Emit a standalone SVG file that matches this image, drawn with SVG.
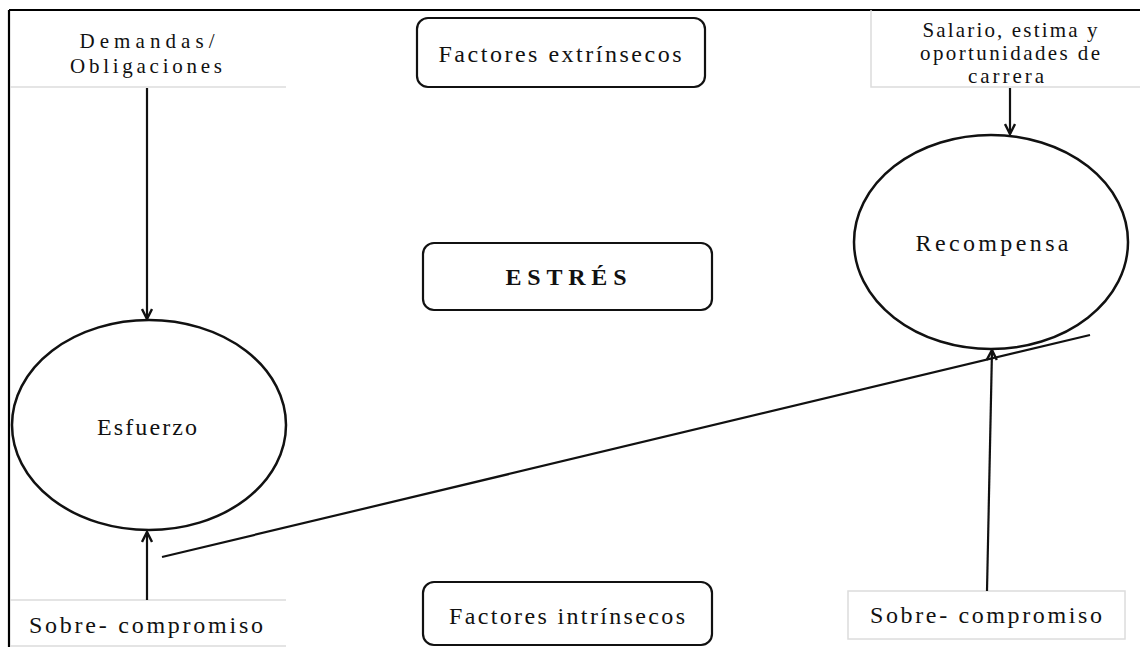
<svg xmlns="http://www.w3.org/2000/svg" width="1140" height="647" viewBox="0 0 1140 647">
  <style>
    text { font-family: "Liberation Serif", "Times New Roman", serif; font-size: 24px; fill: #111; }
    .small { font-size: 21px; }
    .frame { stroke: #000; stroke-width: 2.2; fill: none; }
    .soft { stroke: #dcdcdc; stroke-width: 1.5; fill: none; }
    .rbox { fill: #fff; stroke: #111; stroke-width: 2.2; }
    .oval { fill: none; stroke: #111; stroke-width: 2.5; }
    .conn { stroke: #111; stroke-width: 2.2; fill: none; }
  </style>
  <defs>
    <marker id="arrow" viewBox="0 0 12 12" refX="11" refY="6" markerWidth="12" markerHeight="12" markerUnits="userSpaceOnUse" orient="auto">
      <path d="M1,1 L11,6 L1,11" fill="none" stroke="#111" stroke-width="2.4"/>
    </marker>
  </defs>

  <rect width="1140" height="647" fill="#fff"/>

  <!-- outer frame (top and left edges) -->
  <path class="frame" d="M9,10 L1140,10 M9,10 L9,647"/>

  <g id="demandas">
    <path class="soft" d="M10,87 L286,87"/>
    <text class="small" x="147" y="48" text-anchor="middle" textLength="135" lengthAdjust="spacing">Demandas/</text>
    <text class="small" x="146" y="73" text-anchor="middle" textLength="152" lengthAdjust="spacing">Obligaciones</text>
  </g>

  <g id="factores-extrinsecos">
    <rect class="rbox" x="417" y="18" width="288" height="69" rx="11"/>
    <text x="560" y="62" text-anchor="middle" textLength="243" lengthAdjust="spacing">Factores extrínsecos</text>
  </g>

  <g id="salario">
    <path class="soft" d="M871,10 L871,87 L1140,87"/>
    <text class="small" x="1010" y="37" text-anchor="middle" textLength="175" lengthAdjust="spacing">Salario, estima y</text>
    <text class="small" x="1010" y="60" text-anchor="middle" textLength="180" lengthAdjust="spacing">oportunidades de</text>
    <text class="small" x="1006" y="83" text-anchor="middle" textLength="76" lengthAdjust="spacing">carrera</text>
  </g>

  <g id="estres">
    <rect class="rbox" x="423" y="243" width="289" height="67" rx="11"/>
    <text x="566" y="285" text-anchor="middle" font-size="26" font-weight="bold" textLength="121" lengthAdjust="spacing">ESTRÉS</text>
  </g>

  <g id="esfuerzo">
    <ellipse class="oval" cx="149" cy="425" rx="137" ry="105"/>
    <text x="147" y="435" text-anchor="middle" textLength="100" lengthAdjust="spacing">Esfuerzo</text>
  </g>

  <g id="recompensa">
    <ellipse class="oval" cx="991" cy="242" rx="137" ry="107"/>
    <text x="992" y="251" text-anchor="middle" textLength="153" lengthAdjust="spacing">Recompensa</text>
  </g>

  <g id="sobre-compromiso-izq">
    <path class="soft" d="M10,600 L286,600 M10,646 L286,646"/>
    <text x="146" y="633" text-anchor="middle" textLength="234" lengthAdjust="spacing">Sobre- compromiso</text>
  </g>

  <g id="factores-intrinsecos">
    <rect class="rbox" x="423" y="582" width="289" height="63" rx="11"/>
    <text x="567" y="624" text-anchor="middle" textLength="236" lengthAdjust="spacing">Factores intrínsecos</text>
  </g>

  <g id="sobre-compromiso-der">
    <rect class="soft" x="848" y="591" width="277" height="48"/>
    <text x="986" y="623" text-anchor="middle" textLength="232" lengthAdjust="spacing">Sobre- compromiso</text>
  </g>

  <g id="connectors">
    <line class="conn" x1="147" y1="88" x2="147" y2="319" marker-end="url(#arrow)"/>
    <line class="conn" x1="147" y1="600" x2="147" y2="532" marker-end="url(#arrow)"/>
    <line class="conn" x1="1010" y1="88" x2="1010" y2="134" marker-end="url(#arrow)"/>
    <line class="conn" x1="987" y1="591" x2="992" y2="350" marker-end="url(#arrow)"/>
    <line class="conn" x1="162" y1="557" x2="1090" y2="335"/>
  </g>
</svg>
